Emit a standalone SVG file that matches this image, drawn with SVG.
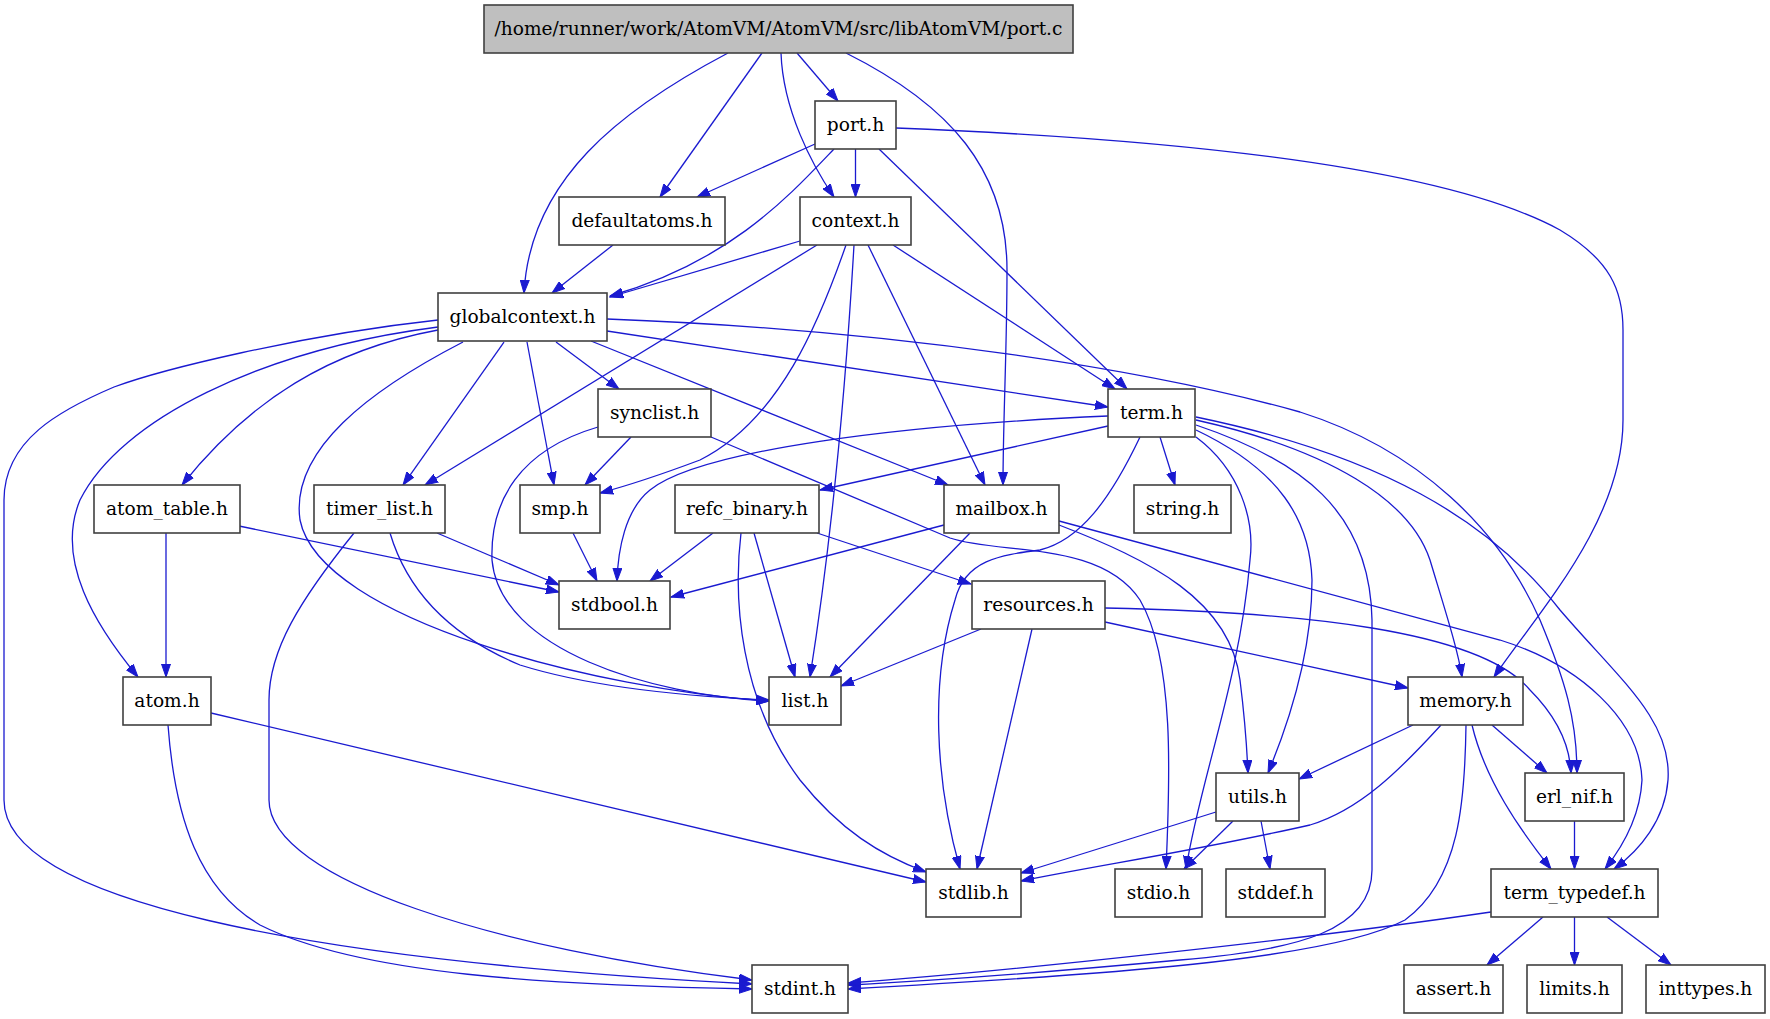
<svg xmlns="http://www.w3.org/2000/svg" width="1770" height="1019" viewBox="0 0 1770 1019">
<style>
.n rect{fill:#fff;stroke:#404040;stroke-width:1.6}
.n text{font-family:"DejaVu Serif","Liberation Serif",serif;font-size:18.6px;text-anchor:middle;fill:#000}
.e path{fill:none;stroke:#1a1ad0;stroke-width:1.3;marker-end:url(#ah)}
</style>
<defs>
<marker id="ah" markerWidth="14" markerHeight="10" refX="13" refY="5" orient="auto" markerUnits="userSpaceOnUse">
<path d="M0,0.5 L13,5 L0,9.5 z" fill="#1a1ad0" stroke="#1a1ad0" stroke-width="1"/>
</marker>
</defs>
<rect width="1770" height="1019" fill="#fff"/>
<g id="edges" class="e">
<!-- root -->
<path d="M797,53 L838,101"/>
<path d="M762,53 L660,197"/>
<path d="M781,53 C783,110 812,165 834,197"/>
<path d="M728,53 C620,110 530,180 524,293"/>
<path d="M846,53 C950,105 1007,170 1007,270 C1007,350 1003,420 1003,485"/>
<!-- port.h -->
<path d="M815,144 L697,197"/>
<path d="M855.5,149 L855.5,197"/>
<path d="M834,149 C790,195 730,262 610,296"/>
<path d="M879,149 L1127,389"/>
<path d="M896,128 C1200,140 1450,170 1560,230 C1610,260 1623,290 1623,330 L1623,420 C1623,520 1540,610 1494,677"/>
<!-- defaultatoms -->
<path d="M613,245 L552,293"/>
<!-- context.h -->
<path d="M800,241 L610,297"/>
<path d="M817,245 L425,485"/>
<path d="M846,245 C820,320 780,420 700,460 C660,475 630,485 600,493"/>
<path d="M854,245 C845,400 830,550 810,677"/>
<path d="M868,245 L985,485"/>
<path d="M893,245 L1115,389"/>
<!-- globalcontext.h -->
<path d="M438,330 C330,350 250,400 182,485"/>
<path d="M438,327 C260,350 120,420 80,500 C55,560 95,625 138,677"/>
<path d="M438,320 C300,335 160,370 114,387 C60,410 4,440 4,500 L4,800 C4,900 300,960 752,984"/>
<path d="M504,342 L403,485"/>
<path d="M463,342 C370,390 290,450 300,520 C320,620 600,690 769,701"/>
<path d="M527,342 L554,485"/>
<path d="M556,342 L619,389"/>
<path d="M591,341 L948,485"/>
<path d="M607,331 L1108,407"/>
<path d="M607,319 C900,330 1150,370 1300,412 C1420,450 1500,530 1540,620 C1565,680 1577,720 1577,773"/>
<!-- synclist.h -->
<path d="M631,437 L585,485"/>
<path d="M598,427 C520,450 490,500 492,560 C500,650 650,695 769,701"/>
<path d="M711,437 L950,538 C1000,555 1100,540 1140,600 C1175,660 1170,780 1166,869"/>
<!-- term.h -->
<path d="M1160,437 L1175,485"/>
<path d="M1108,416 C900,425 700,450 650,490 C625,510 618,550 617,581"/>
<path d="M1108,426 L820,490"/>
<path d="M1140,437 C1110,500 1080,540 1040,550 C1000,555 965,560 955,600 C930,680 935,780 960,869"/>
<path d="M1196,437 C1240,470 1255,520 1250,560 C1240,680 1200,780 1186,869"/>
<path d="M1196,430 C1280,470 1310,520 1312,580 C1312,650 1290,720 1268,773"/>
<path d="M1196,425 C1300,460 1370,510 1372,620 L1372,870 C1372,930 1300,950 1180,960 C1050,972 950,980 848,985"/>
<path d="M1196,420 C1330,450 1410,500 1430,560 C1445,610 1458,650 1462,677"/>
<path d="M1196,417 C1380,455 1490,520 1560,610 C1620,680 1672,720 1668,780 C1665,820 1640,850 1614,869"/>
<!-- mailbox.h -->
<path d="M944,525 L671,597"/>
<path d="M970,533 L830,677"/>
<path d="M1059,525 C1150,560 1230,600 1240,680 C1245,720 1247,750 1248,773"/>
<path d="M1059,521 L1500,640 C1580,665 1640,720 1642,780 C1640,820 1620,850 1605,869"/>
<!-- refc_binary.h -->
<path d="M713,533 L650,581"/>
<path d="M741,533 C733,600 740,700 800,780 C840,830 880,855 926,872"/>
<path d="M754,533 L795,677"/>
<path d="M817,533 L971,584"/>
<!-- resources.h -->
<path d="M981,629 L841,686"/>
<path d="M1032,629 L977,869"/>
<path d="M1105,622 L1408,688"/>
<path d="M1105,608 C1300,612 1480,630 1530,690 C1560,720 1570,750 1571,773"/>
<!-- memory.h -->
<path d="M1413,725 L1299,779"/>
<path d="M1441,725 C1400,770 1360,810 1310,825 C1200,850 1100,865 1021,881"/>
<path d="M1466,725 C1465,800 1460,880 1405,920 C1330,960 1100,975 848,989"/>
<path d="M1472,725 C1485,780 1520,830 1551,869"/>
<path d="M1492,725 L1547,773"/>
<!-- utils.h -->
<path d="M1216,812 L1021,873"/>
<path d="M1233,821 L1184,869"/>
<path d="M1261,821 L1270,869"/>
<!-- erl_nif.h -->
<path d="M1574.5,821 L1574.5,869"/>
<!-- term_typedef.h -->
<path d="M1491,912 C1300,940 1000,972 848,983"/>
<path d="M1543,917 L1487,965"/>
<path d="M1574.5,917 L1574.5,965"/>
<path d="M1607,917 L1671,965"/>
<!-- atom_table.h -->
<path d="M239,526 L559,592"/>
<path d="M166,533 L166,677"/>
<!-- atom.h -->
<path d="M211,713 L926,882"/>
<path d="M168,725 C175,820 200,890 260,925 C360,975 550,985 752,989"/>
<!-- timer_list.h -->
<path d="M437,533 L559,585"/>
<path d="M390,533 C410,600 460,640 520,665 C600,690 700,697 769,700"/>
<path d="M354,533 C300,600 269,650 269,700 L269,800 C269,880 500,950 752,980"/>
<!-- smp.h -->
<path d="M573,533 L597,581"/>
</g>
<g id="node-root" class="n"><rect x="484" y="5" width="589" height="48" style="fill:#bfbfbf"/><text x="778.5" y="34.5">/home/runner/work/AtomVM/AtomVM/src/libAtomVM/port.c</text></g>
<g id="node-port" class="n"><rect x="815" y="101" width="81" height="48"/><text x="855.5" y="130.5">port.h</text></g>
<g id="node-defaultatoms" class="n"><rect x="559" y="197" width="166" height="48"/><text x="642" y="226.5">defaultatoms.h</text></g>
<g id="node-context" class="n"><rect x="800" y="197" width="111" height="48"/><text x="855.5" y="226.5">context.h</text></g>
<g id="node-globalcontext" class="n"><rect x="438" y="293" width="169" height="48"/><text x="522.5" y="322.5">globalcontext.h</text></g>
<g id="node-synclist" class="n"><rect x="598" y="389" width="113" height="48"/><text x="654.5" y="418.5">synclist.h</text></g>
<g id="node-term" class="n"><rect x="1108" y="389" width="87" height="48"/><text x="1151.5" y="418.5">term.h</text></g>
<g id="node-atom_table" class="n"><rect x="94" y="485" width="146" height="48"/><text x="167" y="514.5">atom_table.h</text></g>
<g id="node-timer_list" class="n"><rect x="314" y="485" width="131" height="48"/><text x="379.5" y="514.5">timer_list.h</text></g>
<g id="node-smp" class="n"><rect x="520" y="485" width="80" height="48"/><text x="560" y="514.5">smp.h</text></g>
<g id="node-refc_binary" class="n"><rect x="675" y="485" width="144" height="48"/><text x="747" y="514.5">refc_binary.h</text></g>
<g id="node-mailbox" class="n"><rect x="944" y="485" width="115" height="48"/><text x="1001.5" y="514.5">mailbox.h</text></g>
<g id="node-string" class="n"><rect x="1134" y="485" width="97" height="48"/><text x="1182.5" y="514.5">string.h</text></g>
<g id="node-stdbool" class="n"><rect x="559" y="581" width="111" height="48"/><text x="614.5" y="610.5">stdbool.h</text></g>
<g id="node-resources" class="n"><rect x="972" y="581" width="133" height="48"/><text x="1038.5" y="610.5">resources.h</text></g>
<g id="node-atom" class="n"><rect x="123" y="677" width="88" height="48"/><text x="167" y="706.5">atom.h</text></g>
<g id="node-list" class="n"><rect x="769" y="677" width="72" height="48"/><text x="805" y="706.5">list.h</text></g>
<g id="node-memory" class="n"><rect x="1408" y="677" width="115" height="48"/><text x="1465.5" y="706.5">memory.h</text></g>
<g id="node-utils" class="n"><rect x="1216" y="773" width="83" height="48"/><text x="1257.5" y="802.5">utils.h</text></g>
<g id="node-erl_nif" class="n"><rect x="1525" y="773" width="99" height="48"/><text x="1574.5" y="802.5">erl_nif.h</text></g>
<g id="node-stdlib" class="n"><rect x="926" y="869" width="95" height="48"/><text x="973.5" y="898.5">stdlib.h</text></g>
<g id="node-stdio" class="n"><rect x="1115" y="869" width="87" height="48"/><text x="1158.5" y="898.5">stdio.h</text></g>
<g id="node-stddef" class="n"><rect x="1226" y="869" width="99" height="48"/><text x="1275.5" y="898.5">stddef.h</text></g>
<g id="node-term_typedef" class="n"><rect x="1491" y="869" width="167" height="48"/><text x="1574.5" y="898.5">term_typedef.h</text></g>
<g id="node-stdint" class="n"><rect x="752" y="965" width="96" height="48"/><text x="800" y="994.5">stdint.h</text></g>
<g id="node-assert" class="n"><rect x="1404" y="965" width="99" height="48"/><text x="1453.5" y="994.5">assert.h</text></g>
<g id="node-limits" class="n"><rect x="1527" y="965" width="95" height="48"/><text x="1574.5" y="994.5">limits.h</text></g>
<g id="node-inttypes" class="n"><rect x="1646" y="965" width="119" height="48"/><text x="1705.5" y="994.5">inttypes.h</text></g>
</svg>
